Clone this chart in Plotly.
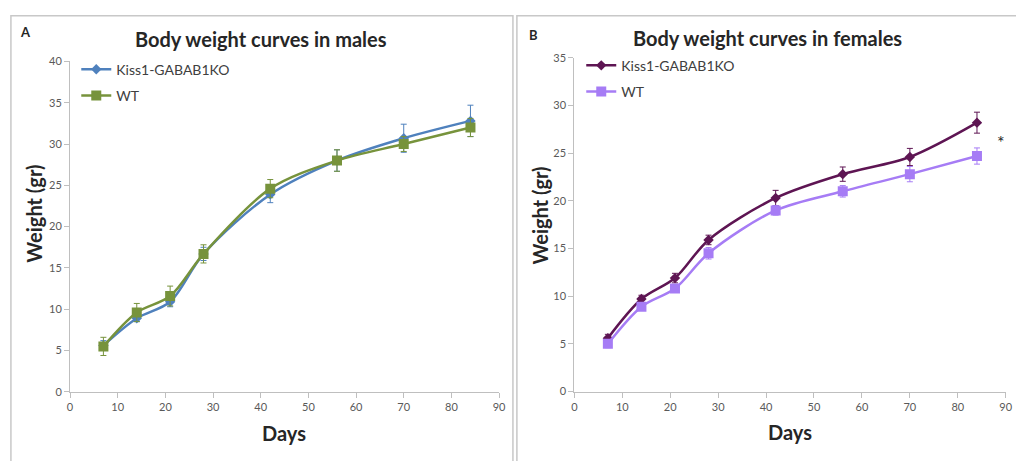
import plotly.graph_objects as go

W, H = 1016, 461

days = [7, 14, 21, 28, 42, 56, 70, 84]

male_ko = [5.6, 8.9, 10.9, 16.7, 23.9, 28.0, 30.7, 32.8]
male_ko_err = [0.6, 0.4, 0.6, 0.8, 1.0, 1.3, 1.7, 1.9]
male_wt = [5.5, 9.6, 11.6, 16.7, 24.6, 28.0, 30.0, 32.0]
male_wt_err = [1.1, 1.1, 1.2, 1.1, 1.1, 1.3, 0.9, 1.1]

female_ko = [5.6, 9.7, 11.9, 15.9, 20.3, 22.8, 24.6, 28.2]
female_ko_err = [0.4, 0.4, 0.5, 0.5, 0.8, 0.75, 0.9, 1.1]
female_wt = [5.0, 8.9, 10.8, 14.5, 19.0, 21.0, 22.8, 24.7]
female_wt_err = [0.4, 0.4, 0.4, 0.6, 0.5, 0.6, 0.8, 0.85]

series_names = ["Kiss1-GABAB1KO", "WT"]
titles = ["Body weight curves in males", "Body weight curves in females"]
panel_labels = ["A", "B"]
x_title = "Days"
y_title = "Weight (gr)"

C_MKO = "#4F81BD"
C_MWT = "#77933C"
C_FKO = "#5E1553"
C_FWT = "#A67CF5"

def px(x):
    return x / W

def py(y):
    return 1 - y / H

fig = go.Figure()

def add_series(xs, ys, err, color, symbol, msize, name, xa, ya, leg, group):
    fig.add_trace(go.Scatter(
        x=xs, y=ys, name=name, mode="lines+markers",
        line=dict(color=color, width=2.5, shape="spline", smoothing=0.9),
        marker=dict(symbol=symbol, size=msize, color=color),
        error_y=dict(type="data", array=err, visible=True, color=color,
                     thickness=1, width=3),
        xaxis=xa, yaxis=ya, legend=leg, legendgroup=group,
    ))

add_series(days, male_ko, male_ko_err, C_MKO, "diamond", 8, series_names[0], "x", "y", "legend", "a1")
add_series(days, male_wt, male_wt_err, C_MWT, "square", 10, series_names[1], "x", "y", "legend", "a2")
add_series(days, female_ko, female_ko_err, C_FKO, "diamond", 8, series_names[0], "x2", "y2", "legend2", "b1")
add_series(days, female_wt, female_wt_err, C_FWT, "square", 10, series_names[1], "x2", "y2", "legend2", "b2")

axis_common = dict(
    showgrid=False, zeroline=False, showline=True, linecolor="#BFBFBF", linewidth=1,
    ticks="outside", tickcolor="#BFBFBF", ticklen=5, tickwidth=1,
    tickfont=dict(family="Lato", size=11, color="#595959"),
)

fig.update_layout(
    width=W, height=H,
    margin=dict(l=0, r=0, t=0, b=0),
    paper_bgcolor="white", plot_bgcolor="white",
    xaxis=dict(domain=[px(67.7), px(501)], range=[0, 90], dtick=10, anchor="y", **axis_common),
    yaxis=dict(domain=[py(396), py(56)], range=[0, 40], dtick=5, anchor="x", **axis_common),
    xaxis2=dict(domain=[px(577), px(1012.7)], range=[0, 90], dtick=10, anchor="y2", **axis_common),
    yaxis2=dict(domain=[py(395.7), py(52.3)], range=[0, 35], dtick=5, anchor="x2", **axis_common),
    legend=dict(x=px(74), y=py(48), xanchor="left", yanchor="top", bgcolor="rgba(0,0,0,0)",
                font=dict(family="Lato", size=14, color="#404040"), tracegroupgap=5,
                itemwidth=30),
    legend2=dict(x=px(584), y=py(44), xanchor="left", yanchor="top", bgcolor="rgba(0,0,0,0)",
                 font=dict(family="Lato", size=14, color="#404040"), tracegroupgap=5,
                 itemwidth=30),
    showlegend=True,
)

# panel borders
fig.add_shape(type="rect", xref="paper", yref="paper", x0=px(8), x1=px(515), y0=py(470), y1=py(9),
              line=dict(color="#C8C8C8", width=1.5), fillcolor="rgba(0,0,0,0)", layer="below")
fig.add_shape(type="rect", xref="paper", yref="paper", x0=px(519), x1=px(1030), y0=py(470), y1=py(9),
              line=dict(color="#C8C8C8", width=1.5), fillcolor="rgba(0,0,0,0)", layer="below")

ann = []
ann.append(dict(text="<b>" + titles[0] + "</b>", x=px(261), y=py(33), font=dict(family="Lato", size=20, color="#262626")))
ann.append(dict(text="<b>" + titles[1] + "</b>", x=px(772), y=py(32), font=dict(family="Lato", size=20, color="#262626")))
ann.append(dict(text="<b>" + panel_labels[0] + "</b>", x=px(23), y=py(26), font=dict(family="Lato", size=13, color="#262626")))
ann.append(dict(text="<b>" + panel_labels[1] + "</b>", x=px(536), y=py(29), font=dict(family="Lato", size=13, color="#262626")))
ann.append(dict(text="<b>" + x_title + "</b>", x=px(284), y=py(438), font=dict(family="Lato", size=20, color="#262626")))
ann.append(dict(text="<b>" + x_title + "</b>", x=px(795), y=py(437), font=dict(family="Lato", size=20, color="#262626")))
ann.append(dict(text="<b>" + y_title + "</b>", x=px(31), y=py(213), textangle=-90, font=dict(family="Lato", size=20, color="#262626")))
ann.append(dict(text="<b>" + y_title + "</b>", x=px(542), y=py(215), textangle=-90, font=dict(family="Lato", size=20, color="#262626")))
for a in ann:
    a.update(xref="paper", yref="paper", showarrow=False, xanchor="center", yanchor="middle")
    fig.add_annotation(**a)

fig.add_annotation(text="*", x=89, y=26.2, xref="x2", yref="y2", showarrow=False,
                   font=dict(family="Lato", size=18, color="#262626"))

fig.write_html("out.html")
